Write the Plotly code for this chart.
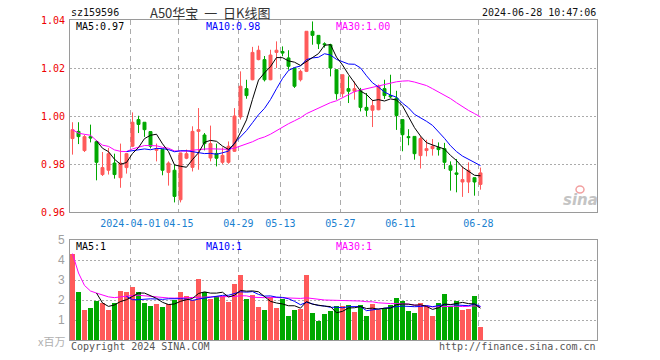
import plotly.graph_objects as go
import pandas as pd

# ---------------- data ----------------
dates = [
    "2024-03-18", "2024-03-19", "2024-03-20", "2024-03-21", "2024-03-22",
    "2024-03-25", "2024-03-26", "2024-03-27", "2024-03-28", "2024-03-29",
    "2024-04-01", "2024-04-02", "2024-04-03", "2024-04-08", "2024-04-09",
    "2024-04-10", "2024-04-11", "2024-04-12", "2024-04-15", "2024-04-16",
    "2024-04-17", "2024-04-18", "2024-04-19", "2024-04-22", "2024-04-23",
    "2024-04-24", "2024-04-25", "2024-04-26", "2024-04-29", "2024-04-30",
    "2024-05-06", "2024-05-07", "2024-05-08", "2024-05-09", "2024-05-10",
    "2024-05-13", "2024-05-14", "2024-05-15", "2024-05-16", "2024-05-17",
    "2024-05-20", "2024-05-21", "2024-05-22", "2024-05-23", "2024-05-24",
    "2024-05-27", "2024-05-28", "2024-05-29", "2024-05-30", "2024-05-31",
    "2024-06-03", "2024-06-04", "2024-06-05", "2024-06-06", "2024-06-07",
    "2024-06-11", "2024-06-12", "2024-06-13", "2024-06-14", "2024-06-17",
    "2024-06-18", "2024-06-19", "2024-06-20", "2024-06-21", "2024-06-24",
    "2024-06-25", "2024-06-26", "2024-06-27", "2024-06-28",
]

opens = [
    0.9906, 0.9936, 0.9856, 0.9914, 0.9893, 0.9756, 0.9774, 0.9804, 0.9743, 0.9785,
    0.9874, 0.9985, 0.9974, 0.9935, 0.9857, 0.9861, 0.9765, 0.9774, 0.9651, 0.9824,
    0.9786, 0.9936, 0.9921, 0.9825, 0.9844, 0.9807, 0.9807, 0.9853, 0.9996, 1.0114,
    1.0151, 1.0235, 1.0235, 1.0151, 1.0265, 1.0269, 1.0242, 1.0200, 1.0151, 1.0186,
    1.0353, 1.0336, 1.0301, 1.0297, 1.0193, 1.0093, 1.0114, 1.0103, 1.0106, 1.0036,
    1.0024, 1.0026, 1.0114, 1.0085, 1.0075, 0.9985, 0.9914, 0.9915, 0.9835, 0.9856,
    0.9864, 0.9869, 0.9864, 0.9793, 0.9763, 0.9725, 0.9725, 0.9743, 0.9715,
]
highs = [
    0.9974, 0.9974, 0.9922, 0.9964, 0.9893, 0.9850, 0.9867, 0.9843, 0.9885, 0.9845,
    1.0015, 1.0001, 0.9974, 0.9935, 0.9885, 0.9862, 0.9811, 0.9796, 0.9847, 0.9860,
    0.9957, 1.0033, 0.9929, 0.9960, 0.9885, 0.9869, 0.9894, 1.0033, 1.0186, 1.0151,
    1.0288, 1.0293, 1.0250, 1.0276, 1.0311, 1.0290, 1.0274, 1.0200, 1.0193, 1.0353,
    1.0394, 1.0336, 1.0307, 1.0301, 1.0193, 1.0172, 1.0165, 1.0144, 1.0117, 1.0096,
    1.0068, 1.0131, 1.0151, 1.0172, 1.0105, 0.9985, 0.9945, 0.9915, 0.9915, 0.9901,
    0.9904, 0.9890, 0.9888, 0.9811, 0.9821, 0.9790, 0.9807, 0.9743, 0.9785,
]
lows = [
    0.9839, 0.9883, 0.9850, 0.9890, 0.9732, 0.9750, 0.9756, 0.9739, 0.9701, 0.9760,
    0.9870, 0.9929, 0.9913, 0.9865, 0.9811, 0.9753, 0.9710, 0.9640, 0.9640, 0.9820,
    0.9769, 0.9776, 0.9857, 0.9811, 0.9790, 0.9800, 0.9801, 0.9850, 0.9985, 1.0072,
    1.0149, 1.0232, 1.0144, 1.0149, 1.0200, 1.0249, 1.0193, 1.0117, 1.0144, 1.0183,
    1.0297, 1.0279, 1.0285, 1.0165, 1.0068, 1.0079, 1.0054, 1.0068, 1.0019, 0.9999,
    0.9954, 1.0024, 1.0071, 1.0075, 0.9942, 0.9853, 0.9878, 0.9818, 0.9781, 0.9832,
    0.9835, 0.9835, 0.9779, 0.9689, 0.9682, 0.9663, 0.9679, 0.9668, 0.9693,
]
closes = [
    0.9943, 0.9914, 0.9914, 0.9908, 0.9807, 0.9785, 0.9843, 0.9756, 0.9804, 0.9843,
    0.9974, 0.9965, 0.9943, 0.9874, 0.9864, 0.9774, 0.9804, 0.9665, 0.9846, 0.9843,
    0.9936, 0.9943, 0.9885, 0.9885, 0.9824, 0.9836, 0.9874, 1.0000, 1.0124, 1.0085,
    1.0265, 1.0274, 1.0151, 1.0254, 1.0274, 1.0262, 1.0207, 1.0124, 1.0186, 1.0353,
    1.0336, 1.0301, 1.0297, 1.0200, 1.0093, 1.0172, 1.0103, 1.0114, 1.0036, 1.0024,
    1.0043, 1.0124, 1.0085, 1.0080, 1.0002, 0.9922, 0.9910, 0.9843, 0.9906, 0.9864,
    0.9874, 0.9860, 0.9807, 0.9774, 0.9757, 0.9735, 0.9774, 0.9725, 0.9763,
]
# volume, in millions of shares
volumes = [
    4.32, 2.38, 1.48, 1.62, 1.93, 1.85, 1.52, 1.85, 2.47, 2.38,
    2.67, 2.38, 1.83, 1.72, 1.82, 1.67, 1.82, 1.98, 2.38, 2.22,
    1.98, 3.07, 2.38, 2.07, 2.22, 2.20, 1.88, 2.82, 3.27, 2.03,
    2.27, 1.67, 1.52, 2.17, 1.62, 2.03, 1.22, 1.52, 1.57, 3.27,
    1.37, 0.93, 1.32, 1.47, 1.72, 1.72, 1.77, 1.38, 1.77, 1.22,
    1.82, 1.52, 1.62, 1.77, 2.12, 1.97, 1.47, 1.37, 1.87, 1.72,
    1.22, 1.87, 2.32, 1.72, 1.97, 1.52, 1.57, 2.22, 0.67,
]

tick_dates = ["2024-04-01", "2024-04-15", "2024-04-29", "2024-05-13",
              "2024-05-27", "2024-06-11", "2024-06-28"]
tick_labels = ["2024-04-01", "04-15", "04-29", "05-13", "05-27", "06-11", "06-28"]
price_ticks = [0.96, 0.98, 1.00, 1.02, 1.04]
price_tick_text = ["0.96", "0.98", "1.00", "1.02", "1.04"]
vol_ticks = [1, 2, 3, 4, 5]

# ---------------- derived ----------------
x = list(range(len(dates)))
cs = pd.Series(closes)
ma5 = cs.rolling(5).mean()
ma10 = cs.rolling(10).mean()
ma30 = cs.rolling(30, min_periods=1).mean()
vs = pd.Series(volumes)
vma5 = vs.rolling(5).mean()
vma10 = vs.rolling(10).mean()
vma30 = vs.rolling(30, min_periods=1).mean()

RED = "#FF5A5A"
GREEN = "#00A800"
GRID = "#ABABAB"
FRAME = "#9A9A9A"
MONO = "DejaVu Sans Mono"

vol_colors = [RED if c >= o else GREEN for o, c in zip(opens, closes)]
grid_x = [dates.index(d) - 0.35 for d in tick_dates]

fig = go.Figure()
fig.add_trace(go.Candlestick(
    x=x, open=opens, high=highs, low=lows, close=closes,
    increasing=dict(line=dict(color=RED, width=1), fillcolor=RED),
    decreasing=dict(line=dict(color=GREEN, width=1), fillcolor=GREEN),
    whiskerwidth=0, xaxis="x", yaxis="y", hoverinfo="skip", showlegend=False,
))
for s, col in ((ma30, "#FF00FF"), (ma10, "#0000FF"), (ma5, "#000000")):
    fig.add_trace(go.Scatter(x=x, y=s, mode="lines", line=dict(color=col, width=1),
                             xaxis="x", yaxis="y", hoverinfo="skip", showlegend=False))

fig.add_trace(go.Bar(x=x, y=volumes, marker=dict(color=vol_colors, line=dict(width=0)),
                     width=0.83, xaxis="x2", yaxis="y2", hoverinfo="skip", showlegend=False))
for s, col in ((vma30, "#FF00FF"), (vma10, "#0000FF"), (vma5, "#000000")):
    fig.add_trace(go.Scatter(x=x, y=s, mode="lines", line=dict(color=col, width=1),
                             xaxis="x2", yaxis="y2", hoverinfo="skip", showlegend=False))

xr = [-0.4167, 87.4167]
common_x = dict(range=xr, showgrid=True, gridcolor=GRID, griddash="5px,4px", gridwidth=1,
                showline=True, mirror=True, linecolor=FRAME, linewidth=1,
                zeroline=False, ticks="", tickvals=grid_x, fixedrange=True)
fig.update_layout(
    width=660, height=360,
    margin=dict(l=70, r=63, t=20, b=20, autoexpand=False),
    paper_bgcolor="white", plot_bgcolor="white",
    bargap=0, boxgap=0.3,
    xaxis=dict(**common_x, anchor="y", ticktext=tick_labels,
               tickfont=dict(family=MONO, size=10, color="#1A7FD0"),
               ticklabelstandoff=2, rangeslider=dict(visible=False)),
    xaxis2=dict(**common_x, anchor="y2", matches="x", showticklabels=False),
    yaxis=dict(domain=[0.4, 1.0], range=[0.96, 1.04], tickvals=price_ticks,
               ticktext=price_tick_text, showgrid=True, gridcolor=GRID, griddash="2px,2px",
               showline=True, mirror=True, linecolor=FRAME, linewidth=1, zeroline=False,
               ticks="", tickfont=dict(family=MONO, size=10, color="#EE0000"),
               ticklabelstandoff=2, fixedrange=True),
    yaxis2=dict(domain=[0.0, 0.3125], range=[0, 5], tickvals=vol_ticks,
                showgrid=True, gridcolor=GRID, griddash="2px,2px",
                showline=True, mirror=True, linecolor=FRAME, linewidth=1, zeroline=False,
                ticks="", tickfont=dict(family="Liberation Sans", size=12, color="#A0A0A0"),
                ticklabelstandoff=2, fixedrange=True),
)

# helpers: page pixel -> paper fraction (plot area spans page x 70..597, y 20..340)
def px_x(p):
    return (p - 70) / 527.0

def px_y(p):
    return (340 - p) / 320.0

def note(text, x0, y0, color, size=10, family=MONO, anchor="left", **kw):
    fig.add_annotation(text=text, x=px_x(x0), y=px_y(y0), xref="paper", yref="paper",
                       xanchor=anchor, yanchor="middle", showarrow=False,
                       font=dict(family=family, size=size, color=color, **kw),
                       borderpad=0)

note("sz159596", 70, 13, "#111111")
note("A50华宝\u00a0\u00a0一\u00a0\u00a0日K线图", 210, 12, "#333333", size=13,
     family="Noto Sans CJK SC", anchor="center")
note("2024-06-28 10:47:06", 597, 13, "#111111", anchor="right")
note("MA5:0.97", 75, 26, "#000000")
note("MA10:0.98", 205, 26, "#0000FF")
note("MA30:1.00", 335, 26, "#FF00FF")
note("MA5:1", 75, 246.5, "#000000")
note("MA10:1", 205, 246.5, "#0000FF")
note("MA30:1", 335, 246.5, "#FF00FF")
note("x百万", 66, 341, "#B0B0B0", size=11, family="Noto Sans CJK SC", anchor="right")
note("Copyright 2024 SINA.COM", 70, 346, "#555555")
note("http://finance.sina.com.cn", 597, 346, "#555555", anchor="right")
note("sina", 580, 200, "#C4C4C4", size=15, family="DejaVu Sans", anchor="center",
     weight="bold", style="italic")
# small red "eye" of the watermark logo
fig.add_shape(type="circle", xref="paper", yref="paper",
              x0=px_x(576), x1=px_x(584), y0=px_y(193), y1=px_y(186),
              line=dict(color="#F2A0A0", width=1.5), fillcolor="rgba(0,0,0,0)")

# remove the browser's default 8px body margin so the figure sits at the page origin
fig.write_html("out.html", config={"displayModeBar": False},
               post_script="document.body.style.margin='0';")
